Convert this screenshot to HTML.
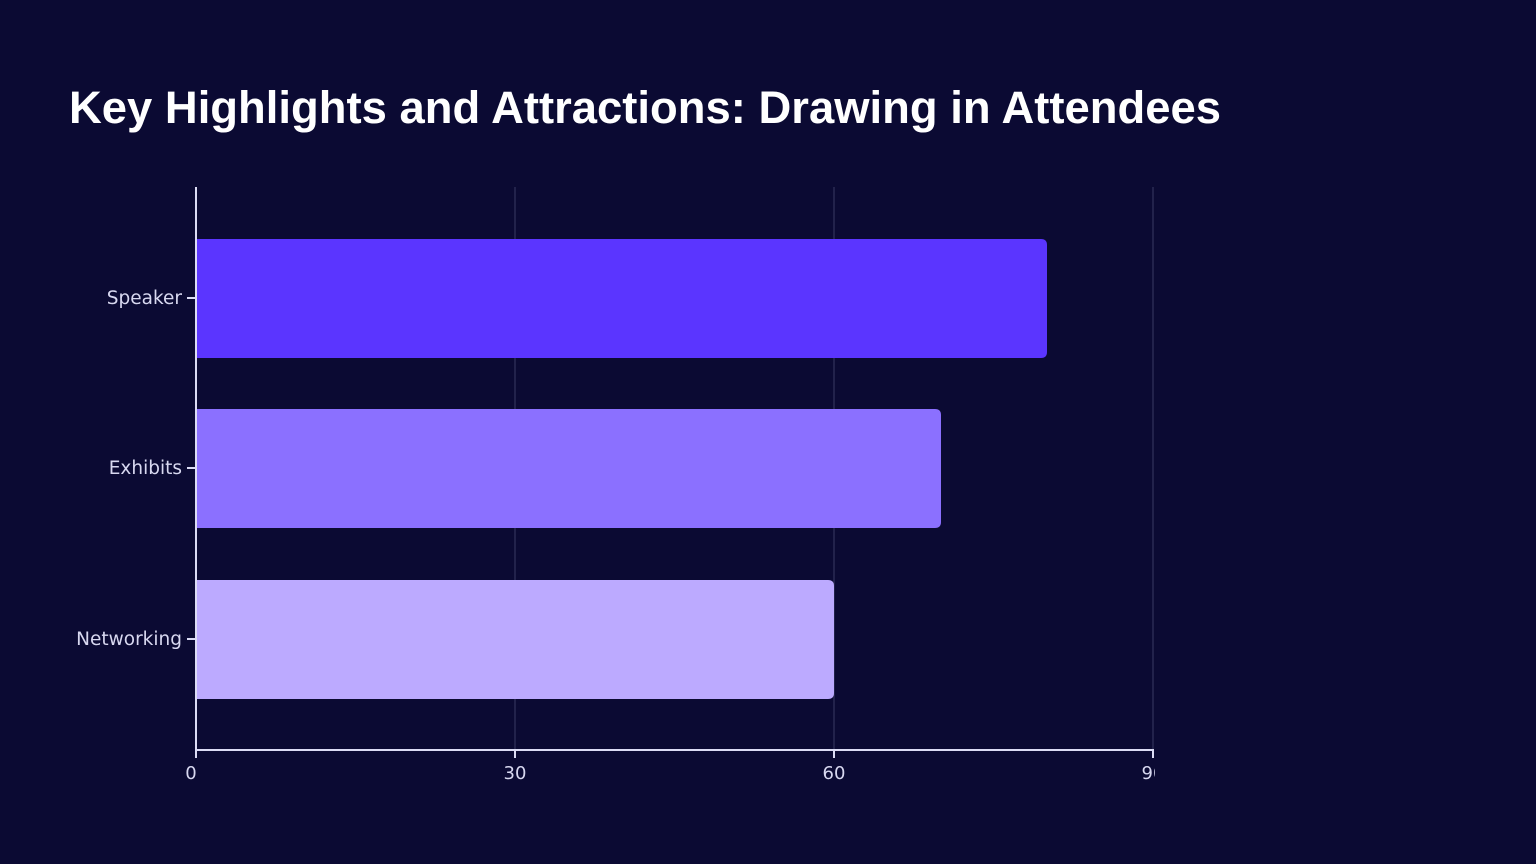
<!DOCTYPE html>
<html><head><meta charset="utf-8"><style>
html,body{margin:0;padding:0;background:#0b0a33;}
body{width:1536px;height:864px;overflow:hidden;}
</style></head><body>
<svg width="1536" height="864" xmlns="http://www.w3.org/2000/svg" style="display:block">
<rect width="1536" height="864" fill="#0b0a33"/>
<text x="69" y="123" font-family="Liberation Sans, sans-serif" font-weight="bold" font-size="45" textLength="1152" lengthAdjust="spacingAndGlyphs" fill="#ffffff">Key Highlights and Attractions: Drawing in Attendees</text>
<g stroke="#3a3a63" stroke-width="1">
<line x1="515" y1="187" x2="515" y2="749"/>
<line x1="834" y1="187" x2="834" y2="749"/>
<line x1="1153" y1="187" x2="1153" y2="749"/>
</g>
<path d="M197 239 H1041 Q1047 239 1047 245 V352 Q1047 358 1041 358 H197 Z" fill="#5b35ff"/>
<path d="M197 409 H935 Q941 409 941 415 V522 Q941 528 935 528 H197 Z" fill="#8b70ff"/>
<path d="M197 580 H828 Q834 580 834 586 V693 Q834 699 828 699 H197 Z" fill="#bcaaff"/>
<g stroke="#dcdcf5" stroke-width="2" fill="none">
<line x1="196" y1="187" x2="196" y2="758"/>
<line x1="196" y1="750" x2="1154" y2="750"/>
<line x1="1153" y1="750" x2="1153" y2="758"/>
<line x1="515" y1="750" x2="515" y2="758"/>
<line x1="834" y1="750" x2="834" y2="758"/>
<line x1="187" y1="298" x2="196" y2="298"/>
<line x1="187" y1="468" x2="196" y2="468"/>
<line x1="187" y1="639" x2="196" y2="639"/>
</g>
<g font-family="DejaVu Sans, Liberation Sans, sans-serif" font-size="18.5" fill="#d8d8f0" text-anchor="end">
<text x="182" y="304">Speaker</text>
<text x="182" y="474">Exhibits</text>
<text x="182" y="645">Networking</text>
</g>
<defs><clipPath id="c"><rect x="0" y="0" width="1155" height="864"/></clipPath></defs>
<g font-family="DejaVu Sans, Liberation Sans, sans-serif" font-size="18" fill="#d8d8f0" text-anchor="middle" clip-path="url(#c)">
<text x="191" y="779">0</text>
<text x="515" y="779">30</text>
<text x="834" y="779">60</text>
<text x="1153" y="779">90</text>
</g>
</svg>
</body></html>
